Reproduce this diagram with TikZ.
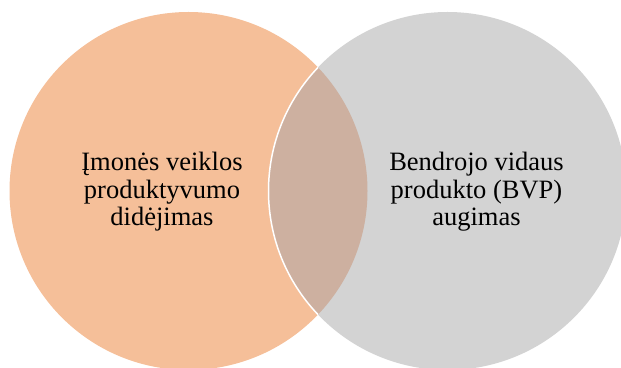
\documentclass[tikz,border=0pt]{standalone}
\usepackage{fontspec}
\setmainfont{Liberation Serif}
\usetikzlibrary{positioning}

\definecolor{oranzine}{HTML}{F5BF99}
\definecolor{pilka}{HTML}{D3D3D3}
\definecolor{bendra}{HTML}{CDB0A0}

\begin{document}
\begin{tikzpicture}[x=1pt,y=1pt,font=\fontsize{26.5}{27.5}\selectfont]
	
	\tikzset{node rat/.style={circle, draw=none,
			minimum size=358pt, inner sep=0pt}}
	\tikzset{node txt/.style={align=center,
			text=black}}
	
	\useasboundingbox (0,0) rectangle (621,367);
	
	\node[node rat, fill=oranzine] (L) at (188.5,176) {};
	\node[node rat, fill=pilka] (R) at (447.5,176) {};
	
	% overlap
	\begin{scope}
		\clip (L.center) circle (179);
		\fill[bendra] (R.center) circle (179);
		\draw[white, line width=1.5pt] (R.center) circle (179);
	\end{scope}
	
	\node[node txt] (TL) at (162,175) {Įmonės veiklos\\produktyvumo\\didėjimas};
	\node[node txt] (TR) at (476.5,175) {Bendrojo vidaus\\produkto (BVP)\\augimas};
	
\end{tikzpicture}
\end{document}
